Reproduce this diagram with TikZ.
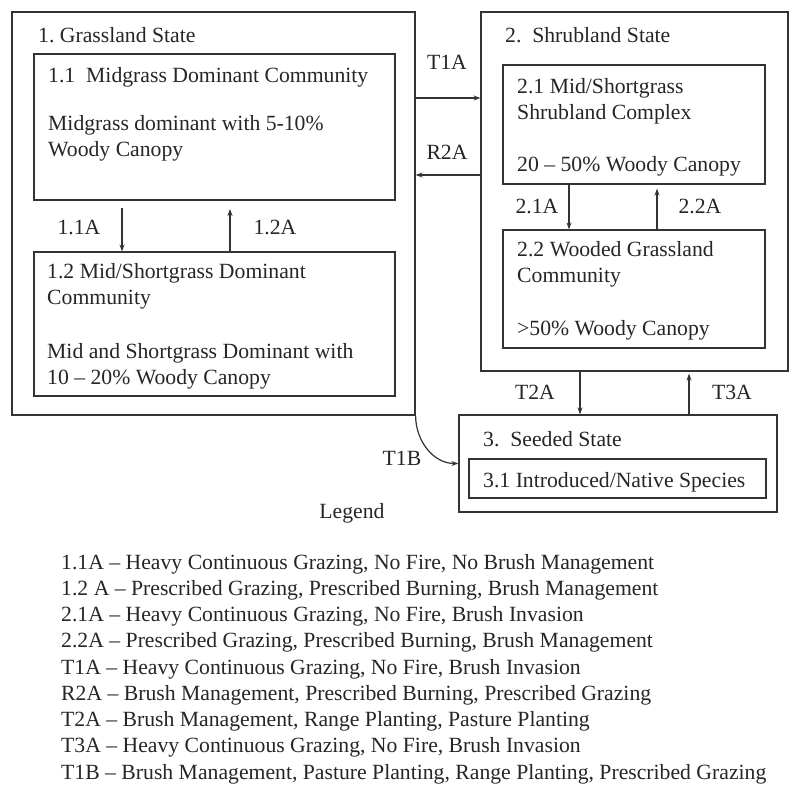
\documentclass[tikz,border=0pt]{standalone}
\usepackage{fontspec}
\setmainfont{Liberation Serif}
\usetikzlibrary{arrows.meta}
\begin{document}
\begin{tikzpicture}
	[x=1pt,y=-1pt,
	box/.style={rectangle,draw=black!80,line width=1.2pt,inner sep=0pt},
	txt/.style={anchor=base west,align=left,inner sep=0pt,font=\fontsize{21.7}{26}\selectfont,text=black!85},
	lbl/.style={inner sep=0pt,font=\fontsize{21.7}{26}\selectfont,text=black!85,text height=14pt,text depth=0pt},
	arr/.style={draw=black!80,line width=1.2pt,-{Stealth[length=7pt,width=5pt]}}]
    \fill[white] (0,0) rectangle (800,799);
    \useasboundingbox (0,0) rectangle (800,799);
    % states and communities
    \node[box,minimum width=403pt,minimum height=403pt] at (213.5,213.5) (s1) {};
    \node[box,minimum width=361pt,minimum height=146pt] at (214.5,127)   (c11) {};
    \node[box,minimum width=361pt,minimum height=144pt] at (214.5,324)   (c12) {};
    \node[box,minimum width=307pt,minimum height=359pt] at (634.5,191.5) (s2) {};
    \node[box,minimum width=262pt,minimum height=119pt] at (634,124.5)   (c21) {};
    \node[box,minimum width=262pt,minimum height=118pt] at (634,289)     (c22) {};
    \node[box,minimum width=318pt,minimum height=97pt]  at (618,463.5)   (s3) {};
    \node[box,minimum width=297pt,minimum height=39pt]  at (617.5,478.5) (c31) {};
    % texts (multi-line ones sit on their last line)
    \node[txt] at (38,43)   (t1)   {1.\ Grassland State};
    \node[txt] at (48,83)   (t11)  {1.1\ \ Midgrass Dominant Community};
    \node[txt] at (48,157)  (t11b) {Midgrass dominant with 5-10\%\\Woody Canopy};
    \node[txt] at (47,305)  (t12)  {1.2 Mid/Shortgrass Dominant\\Community};
    \node[txt] at (47,384)  (t12b) {Mid and Shortgrass Dominant with\\10 – 20\% Woody Canopy};
    \node[txt] at (505,43)  (t2)   {2.\ \ Shrubland State};
    \node[txt] at (517,120) (t21)  {2.1 Mid/Shortgrass\\Shrubland Complex};
    \node[txt] at (517,172) (t21b) {20 – 50\% Woody Canopy};
    \node[txt] at (517,283) (t22)  {2.2 Wooded Grassland\\Community};
    \node[txt] at (517,335) (t22b) {>50\% Woody Canopy};
    \node[txt] at (483,446) (t3)   {3.\ \ Seeded State};
    \node[txt] at (483,487) (t31)  {3.1 Introduced/Native Species};
    % pathways
    \coordinate (p11) at (122,208);
    \coordinate (p12) at (230,209);
    \draw[arr] (p11) -- (p11 |- c12.north);
    \draw[arr] (p12 |- c12.north) -- (p12);
    \draw[arr] ([xshift=-65pt]c21.south) -- ([xshift=-65pt]c22.north);
    \draw[arr] ([xshift=23pt]c22.north) -- ([xshift=23pt,yshift=-4pt]c21.south);
    \draw[arr] ([yshift=115.5pt]s1.east) -- ([yshift=93.5pt]s2.west);
    \draw[arr] ([yshift=16.5pt]s2.west) -- ([yshift=38.5pt]s1.east);
    \draw[arr] ([xshift=-54.5pt]s2.south) -- ([xshift=-38pt]s3.north);
    \draw[arr] ([xshift=71pt]s3.north) -- ([xshift=54.5pt,yshift=-2pt]s2.south);
    \draw[arr] (s1.south east) to[out=-90,in=180] (s3.west);
    \node[lbl] at (79,228)  (l11) {1.1A};
    \node[lbl] at (275,228) (l12) {1.2A};
    \node[lbl] at (537,207) (l21) {2.1A};
    \node[lbl] at (700,207) (l22) {2.2A};
    \node[lbl] at (447,63)  (lt1a) {T1A};
    \node[lbl] at (447,153) (lr2a) {R2A};
    \node[lbl] at (535,392) (lt2a) {T2A};
    \node[lbl] at (732,392) (lt3a) {T3A};
    \node[lbl] at (402,458) (lt1b) {T1B};
    % legend
    \node[lbl] at (352,511) (leg) {Legend};
    \node[txt,font=\fontsize{21.7}{26.25}\selectfont] at (61,779) (legtext) {1.1A – Heavy Continuous Grazing, No Fire, No Brush Management\\
    1.2 A – Prescribed Grazing, Prescribed Burning, Brush Management\\
    2.1A – Heavy Continuous Grazing, No Fire, Brush Invasion\\
    2.2A – Prescribed Grazing, Prescribed Burning, Brush Management\\
    T1A – Heavy Continuous Grazing, No Fire, Brush Invasion\\
    R2A – Brush Management, Prescribed Burning, Prescribed Grazing\\
    T2A – Brush Management, Range Planting, Pasture Planting\\
    T3A – Heavy Continuous Grazing, No Fire, Brush Invasion\\
    T1B – Brush Management, Pasture Planting, Range Planting, Prescribed Grazing};
\end{tikzpicture}
\end{document}
